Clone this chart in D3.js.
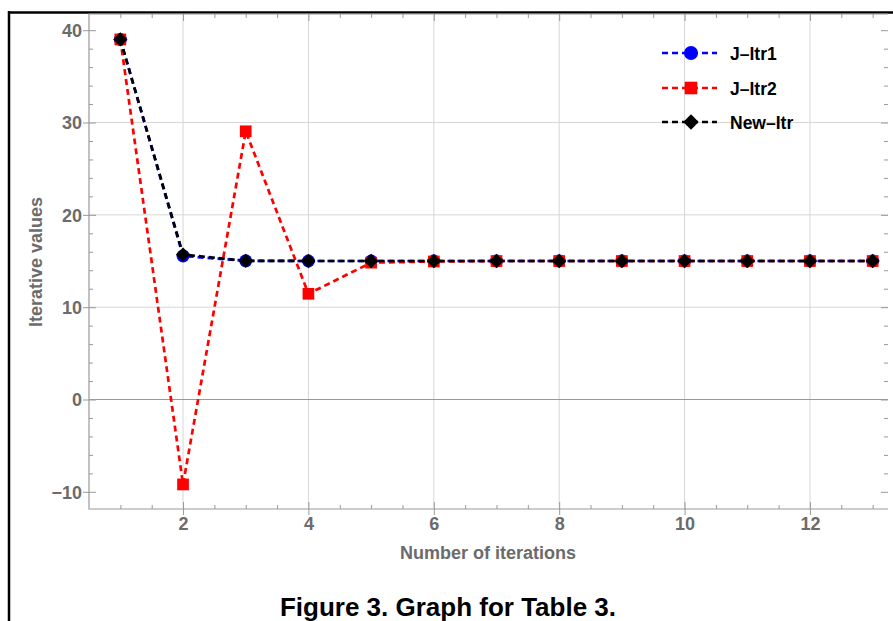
<!DOCTYPE html>
<html><head><meta charset="utf-8">
<script src="https://cdn.jsdelivr.net/npm/d3@7"></script>
<style>body{margin:0;background:#fff}svg{display:block}</style>
</head><body>
<svg id="c" width="893" height="621"></svg>
<script>
const iterations = [1,2,3,4,5,6,7,8,9,10,11,12,13];
const jItr1 = [39, 15.55, 15.02, 15, 15, 15, 15, 15, 15, 15, 15, 15, 15];
const jItr2 = [39, -9.2, 29.05, 11.45, 14.82, 14.95, 15, 15, 15, 15, 15, 15, 15];
const newItr = [39, 15.7, 15.02, 15, 15, 15, 15, 15, 15, 15, 15, 15, 15];
const seriesNames = ["J\u2013Itr1", "J\u2013Itr2", "New\u2013Itr"];
const seriesColors = ["#0000ff", "#ff0000", "#000000"];
const seriesShapes = ["circle", "square", "diamond"];
const xTicks = [2,4,6,8,10,12];
const yTicks = [-10,0,10,20,30,40];

(function(){
const svg = d3.select("#c");
const L=89, R=888, T=14, B=509;
const x = d3.scaleLinear().domain([0.5, 13.245]).range([L, R]);
const y = d3.scaleLinear().domain([0, 40]).range([399.5, 30.2]);
const gray = "#999", txt = "#6b6b6b";
const FF = "Liberation Sans, Arial, sans-serif";

// outer border
svg.append("line").attr("x1",9).attr("x2",9).attr("y1",11).attr("y2",621).attr("stroke","#000").attr("stroke-width",2.5);
svg.append("line").attr("x1",8).attr("x2",893).attr("y1",12.5).attr("y2",12.5).attr("stroke","#000").attr("stroke-width",2.5);

const g = svg.append("g");
// grid
g.selectAll(".vg").data(xTicks).enter().append("line")
 .attr("x1",d=>x(d)).attr("x2",d=>x(d)).attr("y1",T).attr("y2",B)
 .attr("stroke","#d6d6d6").attr("stroke-width",1);
g.selectAll(".hg").data([10,20,30]).enter().append("line")
 .attr("x1",L).attr("x2",R).attr("y1",d=>y(d)).attr("y2",d=>y(d))
 .attr("stroke","#d6d6d6").attr("stroke-width",1);
// zero line
g.append("line").attr("x1",L).attr("x2",R).attr("y1",y(0)).attr("y2",y(0)).attr("stroke","#999").attr("stroke-width",1.2);

// frame (left, top, bottom)
g.append("path").attr("d",`M${R},${T}H${L}V${B}H${R}`)
 .attr("fill","none").attr("stroke",gray).attr("stroke-width",1.2);

// axes with inward ticks
const xMinor = d3.range(1, 13.01, 0.5).filter(v=>!xTicks.includes(v));
const yMinor = d3.range(-10, 41, 2).filter(v=>!yTicks.includes(v));
const axB = g.append("g").attr("transform",`translate(0,${B})`)
  .call(d3.axisBottom(x).tickValues(xTicks).tickSize(-7).tickFormat(d3.format("d")));
g.append("g").attr("transform",`translate(0,${B})`).call(d3.axisBottom(x).tickValues(xMinor).tickSize(-4).tickFormat(""));
g.append("g").attr("transform",`translate(0,${T})`).call(d3.axisTop(x).tickValues(xTicks).tickSize(-7).tickFormat(""));
g.append("g").attr("transform",`translate(0,${T})`).call(d3.axisTop(x).tickValues(xMinor).tickSize(-4).tickFormat(""));
const axL = g.append("g").attr("transform",`translate(${L},0)`)
  .call(d3.axisLeft(y).tickValues(yTicks).tickSize(-7).tickFormat(d=>d<0?"\u2212"+Math.abs(d):d));
g.append("g").attr("transform",`translate(${L},0)`).call(d3.axisLeft(y).tickValues(yMinor).tickSize(-4).tickFormat(""));
g.append("g").attr("transform",`translate(${R},0)`).call(d3.axisRight(y).tickValues(yTicks).tickSize(-7).tickFormat(""));
g.append("g").attr("transform",`translate(${R},0)`).call(d3.axisRight(y).tickValues(yMinor).tickSize(-4).tickFormat(""));
g.selectAll(".domain").remove();
g.selectAll(".tick line").attr("stroke",gray).attr("stroke-width",1);
axL.selectAll(".tick").append("line").attr("x1",0).attr("x2",-6).attr("stroke",gray);
axB.selectAll(".tick").append("line").attr("y1",0).attr("y2",6).attr("stroke",gray);
g.selectAll(".tick text").attr("fill",txt).attr("font-family",FF)
 .attr("font-weight","bold").attr("font-size",18);
axL.selectAll(".tick text").attr("x",-7).attr("dy","0.35em");
axB.selectAll(".tick text").attr("y",21).attr("dy",0);

// axis titles
svg.append("text").attr("x",488).attr("y",559).attr("text-anchor","middle")
 .attr("font-family",FF).attr("font-weight","bold").attr("font-size",18)
 .attr("fill",txt).text("Number of iterations");
svg.append("text").attr("transform","translate(42,262) rotate(-90)").attr("text-anchor","middle")
 .attr("font-family",FF).attr("font-weight","bold").attr("font-size",18)
 .attr("fill",txt).text("Iterative values");
// caption
svg.append("text").attr("x",448).attr("y",616).attr("text-anchor","middle")
 .attr("font-family",FF).attr("font-weight","bold").attr("font-size",26)
 .attr("fill","#000").text("Figure 3. Graph for Table 3.");

// series
const allData = [jItr1, jItr2, newItr];
function marker(sel, shape, color, s){
  if(shape==="circle") sel.append("circle").attr("r",s*0.5).attr("fill",color);
  else if(shape==="square") sel.append("rect").attr("x",-s*0.45).attr("y",-s*0.45).attr("width",s*0.9).attr("height",s*0.9).attr("fill",color);
  else sel.append("path").attr("d",`M0,${-s*0.55}L${s*0.55},0L0,${s*0.55}L${-s*0.55},0Z`).attr("fill",color);
}
const line = d3.line().x((d,i)=>x(iterations[i])).y(d=>y(d));
allData.forEach((vals,k)=>{
  const sg = svg.append("g");
  sg.append("path").datum(vals).attr("d",line).attr("fill","none")
    .attr("stroke",seriesColors[k]).attr("stroke-width",2.7).attr("stroke-dasharray","6,4");
  vals.forEach((v,i)=>{
    const m = sg.append("g").attr("transform",`translate(${x(iterations[i])},${y(v)})`);
    marker(m, seriesShapes[k], seriesColors[k], 13);
  });
});

// legend
const legY = [53, 88, 122];
seriesNames.forEach((n,k)=>{
  const lg = svg.append("g").attr("transform",`translate(0,${legY[k]})`);
  lg.append("line").attr("x1",662).attr("x2",717).attr("y1",0).attr("y2",0)
    .attr("stroke",seriesColors[k]).attr("stroke-width",2.7).attr("stroke-dasharray","6,4");
  const m = lg.append("g").attr("transform","translate(691,0)");
  marker(m, seriesShapes[k], seriesColors[k], 14);
  lg.append("text").attr("x",730).attr("y",6.5).attr("font-family",FF)
    .attr("font-weight","bold").attr("font-size",17.5).attr("fill","#000").text(n);
});
})();
</script>
</body></html>
